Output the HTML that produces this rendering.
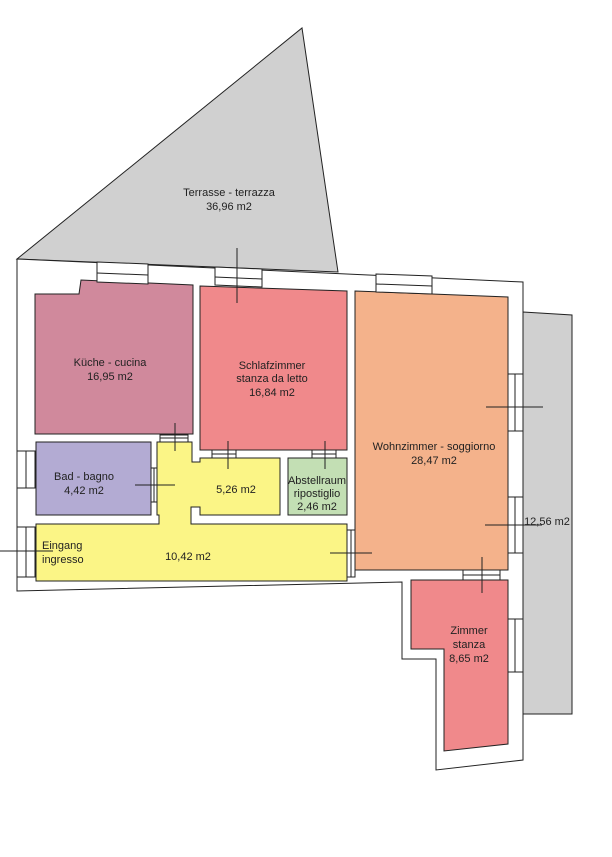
<!DOCTYPE html>
<html><head><meta charset="utf-8"><style>
html,body{margin:0;padding:0;background:#fff;}
svg{display:block;}
text{font-family:"Liberation Sans",Arial,sans-serif;font-size:11px;fill:#222;text-anchor:middle;}
</style></head><body>
<svg width="612" height="857" viewBox="0 0 612 857" xmlns="http://www.w3.org/2000/svg">
<g stroke="#222" stroke-width="1">
<polygon points="17,259 302,28 338,272" fill="#d0d0d0"/>
<polygon points="523,312 572,315 572,714 523,714" fill="#d0d0d0"/>
<polygon points="17,259 523,282 523,760 436,770 436,659 402,659 402,582 17,591" fill="#fff"/>
<polygon points="35,294 79,294 81,280 193,285 193,434 35,434" fill="#d0899c"/>
<polygon points="200,286 347,291 347,450 200,450" fill="#f0898b"/>
<polygon points="36,442 151,442 151,515 36,515" fill="#b3abd3"/>
<polygon points="36,524 159,524 159,515 157,515 157,442 192,442 192,462 200,462 200,458 280,458 280,515 200,515 200,507 191,507 191,524 347,524 347,581 36,581" fill="#fbf586"/>
<polygon points="288,458 347,458 347,515 288,515" fill="#c3dfb4"/>
<polygon points="355,291 508,297 508,570 355,570" fill="#f4b28b"/>
<polygon points="411,580 508,580 508,744 444,751 444,649 411,649" fill="#f0898b"/>
<g fill="#fff">
<polygon points="97,262 148,264 148,284 97,282"/>
<line x1="97" y1="273" x2="148" y2="275"/>
<polygon points="215,267 262,269 262,287 215,285"/>
<line x1="215" y1="277" x2="262" y2="279"/>
<polygon points="376,274 432,276 432,294 376,292"/>
<line x1="376" y1="284" x2="432" y2="286"/>
<rect x="17" y="451" width="18" height="37"/><line x1="26" y1="451" x2="26" y2="488"/>
<rect x="17" y="527" width="18" height="50"/><line x1="26" y1="527" x2="26" y2="577"/>
<rect x="508" y="374" width="15" height="57"/><line x1="515" y1="374" x2="515" y2="431"/>
<rect x="508" y="497" width="15" height="56"/><line x1="515" y1="497" x2="515" y2="553"/>
<rect x="508" y="619" width="15" height="53"/><line x1="515" y1="619" x2="515" y2="672"/>
<rect x="160" y="435" width="28" height="7"/><line x1="160" y1="438" x2="188" y2="438"/>
<rect x="212" y="450" width="24" height="8"/><line x1="212" y1="454" x2="236" y2="454"/>
<rect x="312" y="450" width="24" height="8"/><line x1="312" y1="454" x2="336" y2="454"/>
<rect x="151" y="468" width="6" height="34"/><line x1="154" y1="468" x2="154" y2="502"/>
<rect x="347" y="530" width="8" height="47"/><line x1="351" y1="530" x2="351" y2="577"/>
<rect x="463" y="570" width="37" height="10"/><line x1="463" y1="575" x2="500" y2="575"/>
</g>
<line x1="237" y1="248" x2="237" y2="303"/>
<line x1="175" y1="423" x2="175" y2="451"/>
<line x1="228" y1="441" x2="228" y2="469"/>
<line x1="325" y1="441" x2="325" y2="469"/>
<line x1="135" y1="485" x2="175" y2="485"/>
<line x1="0" y1="551" x2="53" y2="551"/>
<line x1="330" y1="553" x2="372" y2="553"/>
<line x1="486" y1="407" x2="543" y2="407"/>
<line x1="485" y1="525" x2="542" y2="525"/>
<line x1="482" y1="557" x2="482" y2="593"/>
</g>
<text x="229" y="196">Terrasse - terrazza</text>
<text x="229" y="210">36,96 m2</text>
<text x="110" y="366">Küche - cucina</text>
<text x="110" y="380">16,95 m2</text>
<text x="272" y="369">Schlafzimmer</text>
<text x="272" y="382">stanza da letto</text>
<text x="272" y="396">16,84 m2</text>
<text x="84" y="480">Bad - bagno</text>
<text x="84" y="494">4,42 m2</text>
<text x="236" y="493">5,26 m2</text>
<text x="317" y="484">Abstellraum</text>
<text x="317" y="497">ripostiglio</text>
<text x="317" y="510">2,46 m2</text>
<text x="42" y="549" style="text-anchor:start">Eingang</text>
<text x="42" y="563" style="text-anchor:start">ingresso</text>
<text x="188" y="560">10,42 m2</text>
<text x="434" y="450">Wohnzimmer - soggiorno</text>
<text x="434" y="464">28,47 m2</text>
<text x="547" y="525">12,56 m2</text>
<text x="469" y="634">Zimmer</text>
<text x="469" y="648">stanza</text>
<text x="469" y="662">8,65 m2</text>
</svg>
</body></html>
